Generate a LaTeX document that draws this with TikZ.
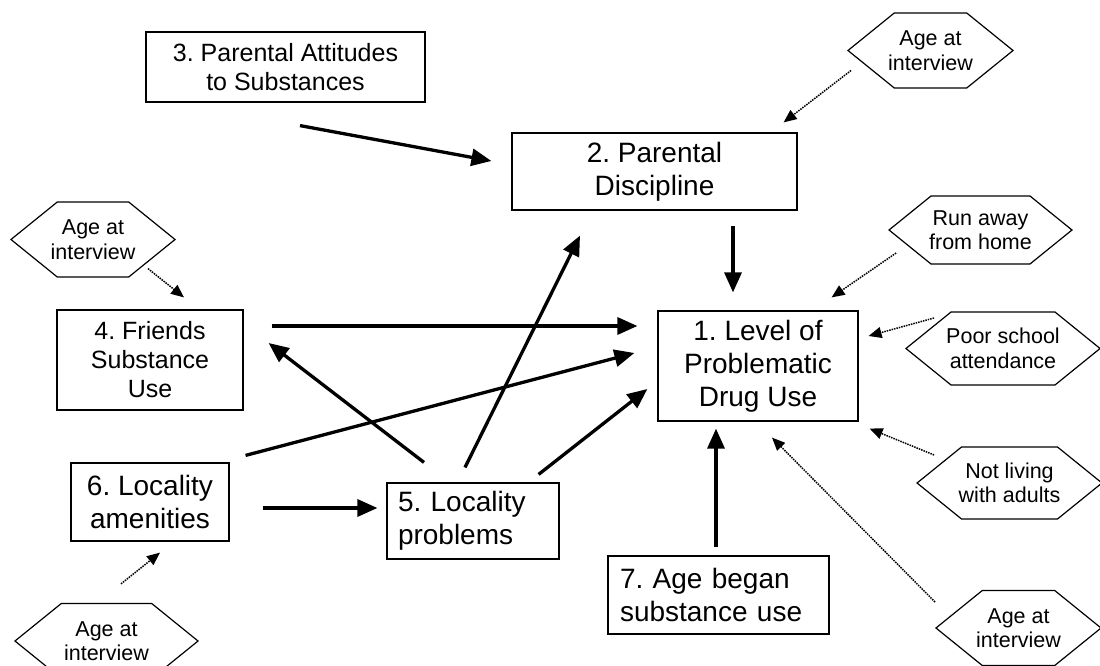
\documentclass[tikz,border=0pt]{standalone}
\usepackage{fontspec}
\setmainfont{Liberation Sans}
\usetikzlibrary{arrows.meta,shapes.symbols,calc}
\frenchspacing
\newcommand\boxfont{\fontsize{28}{33}\selectfont}
\newcommand\smallboxfont{\fontsize{25}{29}\selectfont}
\newcommand\hexfont{\fontsize{21.5}{24.5}\selectfont}

\begin{document}
\begin{tikzpicture}[x=1pt,y=-1pt,
    factor/.style={draw,line width=1.2pt,inner sep=0pt,align=center,font=\boxfont},
    hexa/.style={draw,line width=1.2pt,signal,signal to=west and east,
        signal pointer angle=78,inner ysep=0pt,align=center,font=\hexfont},
    path/.style={line width=3.3pt,-{Triangle[length=20pt,width=17pt]}},
    covar/.style={line width=1.5pt,densely dotted,-{Triangle[length=13pt,width=11pt]}}]
\useasboundingbox (0,0) rectangle (1100,666);
\clip (0,0) rectangle (1100,666);
% boxes
\node[factor,minimum width=200pt,minimum height=110pt] (level) at (758,366)
    {1. Level of\\Problematic\\Drug Use};
\node[factor,minimum width=285pt,minimum height=77pt] (disc) at (654.5,171.5)
    {2. Parental\\Discipline};
\node[factor,font=\smallboxfont,minimum width=279pt,minimum height=70pt] (attit) at (285.5,67)
    {3. Parental Attitudes\\to Substances};
\node[factor,font=\smallboxfont,minimum width=186pt,minimum height=100pt] (friends) at (150,360)
    {4. Friends\\Substance\\Use};
\node[factor,align=left,text width=150pt,minimum width=172pt,minimum height=76pt] (probl) at (473,521)
    {5. Locality\\problems};
\node[factor,minimum width=158pt,minimum height=78pt] (amen) at (150,502)
    {6. Locality\\amenities};
\node[factor,align=left,text width=197pt,minimum width=221pt,minimum height=78pt] (agebeg) at (718.5,595)
    {7. Age began\\substance use};
% hexagons
\node[hexa,inner xsep=-6.2pt,minimum height=75pt] (ageA) at (930.5,50.5) {Age at\\interview};
\node[hexa,inner xsep=-6.7pt,minimum height=75pt] (ageB) at (93,239.5) {Age at\\interview};
\node[hexa,inner xsep=-1.9pt,minimum height=68pt] (runaway) at (980.5,230) {Run away\\from home};
\node[hexa,inner xsep=-4.8pt,minimum height=73pt] (school) at (1003,348.5) {Poor school\\attendance};
\node[hexa,inner xsep=-2.8pt,minimum height=72pt] (adults) at (1009.5,483) {Not living\\with adults};
\node[hexa,inner xsep=-6.2pt,minimum height=75pt] (ageC) at (1018.5,628) {Age at\\interview};
\node[hexa,inner xsep=2.8pt,minimum height=75pt] (ageD) at (106.5,641) {Age at\\interview};
% paths
\draw[path] ($(attit.south)+(14.5,23)$) -- ($(disc.west)+(-20,-10.5)$);
\draw[path] ($(disc.south)+(78.5,15)$) -- ($(level.north)+(-25,-18)$);
\draw[path] ($(friends.east)+(28,-34)$) -- ($(level.west)+(-20,-40)$);
\draw[path] ($(amen.north east)+(16,-7)$) -- ($(level.west)+(-23,-13)$);
\draw[path] ($(probl.north)+(-49,-20)$) -- ($(friends.east)+(25,-17)$);
\draw[path] ($(probl.north)+(-8,-15)$) -- ($(disc.south)+(-74.5,25)$);
\draw[path] ($(probl.north east)+(-21,-8)$) -- ($(level.west)+(-10,23)$);
\draw[path] ($(amen.east)+(33,6)$) -- ($(probl.west)+(-9,-13)$);
\draw[path] ($(agebeg.north)+(-2.5,-8)$) -- ($(level.south)+(-42,7)$);
% covariates
\draw[covar] ($(ageA.west)+(4,20)$) -- ($(disc.north east)+(-14,-10)$);
\draw[covar] ($(ageB.south)+(55,-9)$) -- ($(friends.north)+(34,-12)$);
\draw[covar] ($(runaway.west)+(8,23)$) -- ($(level.north east)+(-27,-13)$);
\draw[covar] ($(school.west)+(29,-30.5)$) -- ($(level.east)+(10,-30)$);
\draw[covar] ($(adults.west)+(18,-28)$) -- ($(level.south east)+(11,7)$);
\draw[covar] ($(ageC.west)+(0,-26)$) -- ($(level.south)+(14,16)$);
\draw[covar] ($(ageD.north)+(14.5,-19)$) -- ($(amen.south)+(10,11)$);
\end{tikzpicture}
\end{document}
